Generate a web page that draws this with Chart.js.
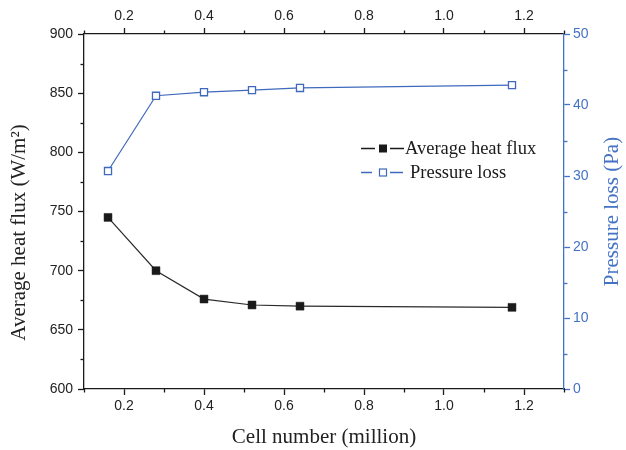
<!DOCTYPE html>
<html>
<head>
<meta charset="utf-8">
<script src="https://cdn.jsdelivr.net/npm/chart.js@4.4.1/dist/chart.umd.min.js"></script>
<style>
  html, body { margin: 0; padding: 0; background: #ffffff; }
  #wrap { width: 626px; height: 450px; position: relative; }
</style>
</head>
<body>
<div id="wrap"><canvas id="c" width="626" height="450"></canvas></div>
<script>
// ---- data ----
const cellNumbers = [0.16, 0.28, 0.40, 0.52, 0.64, 1.17];
const avgHeatFlux = [745, 700, 676, 671, 670, 669];
const pressureLoss = [30.7, 41.3, 41.8, 42.1, 42.4, 42.8];
const seriesNames = ['Average heat flux', 'Pressure loss'];
const xTitle = 'Cell number (million)';
const yLeftTitle = 'Average heat flux (W/m\u00B2)';
const yRightTitle = 'Pressure loss (Pa)';

const BLACK = '#1a1a1a';
const BLUE = '#4472C4';
const LINEBLUE = '#3F69BC';
const TICKFONT = { family: 'Liberation Sans, Arial, sans-serif', size: 14 };
const TITLEFONT = { family: 'Liberation Serif, Times New Roman, serif', size: 21 };

const heatPts = cellNumbers.map((x, i) => ({ x: x, y: avgHeatFlux[i] }));
const presPts = cellNumbers.map((x, i) => ({ x: x, y: pressureLoss[i] }));

function xLabel(v) { const k = Math.round(v * 10); return k % 2 === 0 ? (k / 10).toFixed(1) : ''; }
function isMajorX(v) { return Math.round(v * 10) % 2 === 0; }
function isMajorYL(v) { return Math.round(v) % 50 === 0; }
function isMajorYR(v) { return Math.round(v) % 10 === 0; }

function gridOpts(color, majorFn) {
  return {
    display: true,
    drawOnChartArea: false,
    drawTicks: true,
    tickLength: 6,
    tickWidth: 1.3,
    tickColor: (ctx) => (ctx.tick && majorFn(ctx.tick.value)) ? color : 'rgba(0,0,0,0)'
  };
}

// minor tick marks drawn at the scales' own tick positions
const minorTicks = {
  id: 'minorTicks',
  afterDraw(chart) {
    const ctx = chart.ctx, a = chart.chartArea;
    const L = 3.5;
    const defs = [
      ['x', isMajorX, BLACK, 'bottom'],
      ['x2', isMajorX, BLACK, 'top'],
      ['y', isMajorYL, BLACK, 'left'],
      ['y1', isMajorYR, BLUE, 'right']
    ];
    ctx.save();
    ctx.lineWidth = 1.3;
    defs.forEach(([id, fn, col, pos]) => {
      const s = chart.scales[id];
      ctx.strokeStyle = col;
      s.ticks.forEach(t => {
        if (fn(t.value)) return;
        const p = Math.round(s.getPixelForValue(t.value)) + 0.5;
        ctx.beginPath();
        if (pos === 'bottom') { ctx.moveTo(p, a.bottom); ctx.lineTo(p, a.bottom + L); }
        else if (pos === 'top') { ctx.moveTo(p, a.top); ctx.lineTo(p, a.top - L); }
        else if (pos === 'left') { ctx.moveTo(a.left, p); ctx.lineTo(a.left - L, p); }
        else { ctx.moveTo(a.right, p); ctx.lineTo(a.right + L, p); }
        ctx.stroke();
      });
    });
    ctx.restore();
  }
};

// right axis title, reading bottom-to-top like the reference
const rightTitle = {
  id: 'rightTitle',
  afterDraw(chart) {
    const ctx = chart.ctx, a = chart.chartArea;
    ctx.save();
    ctx.font = '21px "Liberation Serif", "Times New Roman", serif';
    ctx.fillStyle = BLUE;
    ctx.textAlign = 'center';
    ctx.textBaseline = 'middle';
    ctx.translate(612, (a.top + a.bottom) / 2);
    ctx.rotate(-Math.PI / 2);
    ctx.fillText(yRightTitle, 0, 0);
    ctx.restore();
  }
};

// in-plot legend
const customLegend = {
  id: 'customLegend',
  afterDraw(chart) {
    const ctx = chart.ctx;
    ctx.save();
    ctx.font = '18.5px "Liberation Serif", "Times New Roman", serif';
    ctx.textBaseline = 'middle';
    // row 1
    let y = 148.5;
    ctx.strokeStyle = BLACK; ctx.lineWidth = 1.3;
    ctx.beginPath(); ctx.moveTo(361, y); ctx.lineTo(375, y); ctx.moveTo(390, y); ctx.lineTo(404, y); ctx.stroke();
    ctx.fillStyle = BLACK; ctx.fillRect(379, y - 4, 8, 8);
    ctx.fillStyle = '#1a1a1a';
    ctx.fillText(seriesNames[0], 405, y + 1);
    // row 2
    y = 172.5;
    ctx.strokeStyle = LINEBLUE;
    ctx.beginPath(); ctx.moveTo(361, y); ctx.lineTo(372, y); ctx.moveTo(390, y); ctx.lineTo(403, y); ctx.stroke();
    ctx.lineWidth = 1.2;
    ctx.strokeRect(379.5, y - 3.5, 7, 7);
    ctx.fillStyle = '#1a1a1a';
    ctx.fillText(seriesNames[1], 410, y + 1);
    ctx.restore();
  }
};

new Chart(document.getElementById('c'), {
  type: 'line',
  data: {
    datasets: [
      {
        label: seriesNames[0],
        data: heatPts,
        xAxisID: 'x', yAxisID: 'y',
        borderColor: '#2a2a2a', borderWidth: 1.2,
        pointStyle: 'rect', pointRadius: 5.6,
        pointBackgroundColor: BLACK, pointBorderColor: BLACK, pointBorderWidth: 0.5,
        tension: 0, fill: false
      },
      {
        label: seriesNames[1],
        data: presPts,
        xAxisID: 'x', yAxisID: 'y1',
        borderColor: LINEBLUE, borderWidth: 1.2,
        pointStyle: 'rect', pointRadius: 5,
        pointBackgroundColor: '#ffffff', pointBorderColor: LINEBLUE, pointBorderWidth: 1.3,
        tension: 0, fill: false
      }
    ]
  },
  options: {
    responsive: false,
    animation: false,
    devicePixelRatio: 1,
    layout: { padding: 0 },
    plugins: { legend: { display: false }, tooltip: { enabled: false } },
    scales: {
      x: {
        type: 'linear', position: 'bottom', min: 0.1, max: 1.3,
        afterFit: (s) => { s.height = 61; },
        ticks: { stepSize: 0.1, autoSkip: false, maxRotation: 0, padding: 3, color: '#222', font: TICKFONT, callback: xLabel },
        grid: gridOpts(BLACK, isMajorX),
        border: { display: true, color: BLACK, width: 1.3 },
        title: { display: true, text: xTitle, color: '#222', font: TITLEFONT, padding: { top: 0, bottom: 0 } }
      },
      x2: {
        type: 'linear', position: 'top', min: 0.1, max: 1.3,
        afterFit: (s) => { s.height = 34; },
        ticks: { stepSize: 0.1, autoSkip: false, maxRotation: 0, padding: 3, color: '#222', font: TICKFONT, callback: xLabel },
        grid: gridOpts(BLACK, isMajorX),
        border: { display: true, color: BLACK, width: 1.3 }
      },
      y: {
        type: 'linear', position: 'left', min: 600, max: 900,
        afterFit: (s) => { s.width = 84; },
        ticks: { stepSize: 25, autoSkip: false, padding: 5, color: '#222', font: TICKFONT,
                 callback: (v) => isMajorYL(v) ? String(Math.round(v)) : '' },
        grid: gridOpts(BLACK, isMajorYL),
        border: { display: true, color: BLACK, width: 1.3 },
        title: { display: true, text: yLeftTitle + '\u0020\u0020\u0020\u0020\u0020\u0020\u0020\u0020', color: '#222', font: TITLEFONT, padding: { top: 7, bottom: 0 } }
      },
      y1: {
        type: 'linear', position: 'right', min: 0, max: 50,
        afterFit: (s) => { s.width = 62; },
        ticks: { stepSize: 5, autoSkip: false, padding: 3, color: BLUE, font: TICKFONT,
                 callback: (v) => isMajorYR(v) ? String(Math.round(v)) : '' },
        grid: gridOpts(BLUE, isMajorYR),
        border: { display: true, color: BLUE, width: 1.3 },
        title: { display: false }
      }
    }
  },
  plugins: [minorTicks, rightTitle, customLegend]
});
</script>
</body>
</html>
